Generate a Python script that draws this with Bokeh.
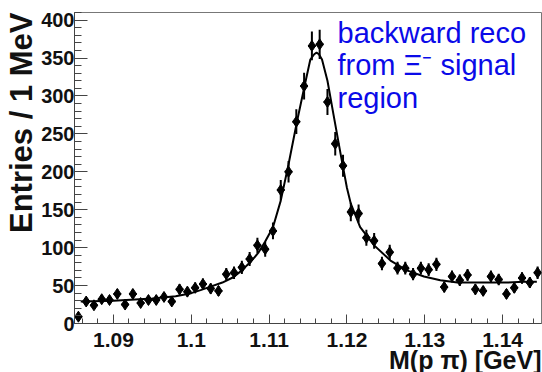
import numpy as np
from bokeh.plotting import figure
from bokeh.models import FixedTicker, CustomJSTickFormatter, Label, Range1d, Title
from bokeh.embed import file_html
from bokeh.resources import INLINE

# bin centres of M(p pi) [GeV], 1 MeV bins from 1.085 to 1.145
mass = [1.0855, 1.0865, 1.0875, 1.0885, 1.0895, 1.0905, 1.0915, 1.0925, 1.0935, 1.0945,
        1.0955, 1.0965, 1.0975, 1.0985, 1.0995, 1.1005, 1.1015, 1.1025, 1.1035, 1.1045,
        1.1055, 1.1065, 1.1075, 1.1085, 1.1095, 1.1105, 1.1115, 1.1125, 1.1135, 1.1145,
        1.1155, 1.1165, 1.1175, 1.1185, 1.1195, 1.1205, 1.1215, 1.1225, 1.1235, 1.1245,
        1.1255, 1.1265, 1.1275, 1.1285, 1.1295, 1.1305, 1.1315, 1.1325, 1.1335, 1.1345,
        1.1355, 1.1365, 1.1375, 1.1385, 1.1395, 1.1405, 1.1415, 1.1425, 1.1435, 1.1445]
counts = [9, 29, 24, 32, 31, 39, 25, 39, 27, 31,
          31, 35, 29, 45, 42, 47, 52, 46, 43, 65,
          67, 74, 85, 103, 98, 122, 176, 200, 266, 313,
          366, 368, 292, 237, 208, 147, 145, 113, 109, 79,
          94, 73, 73, 65, 73, 71, 78, 48, 62, 57,
          64, 45, 43, 62, 58, 39, 47, 60, 54, 67]
errors = [3.0, 5.4, 4.9, 5.7, 5.6, 6.2, 5.0, 6.2, 5.2, 5.6,
          5.6, 5.9, 5.4, 6.7, 6.5, 6.9, 7.2, 6.8, 6.6, 8.1,
          8.2, 8.6, 9.2, 10.1, 9.9, 11.0, 13.3, 14.1, 16.3, 17.7,
          19.1, 19.2, 17.1, 15.4, 14.4, 12.1, 12.0, 10.6, 10.4, 8.9,
          9.7, 8.5, 8.5, 8.1, 8.5, 8.4, 8.8, 6.9, 7.9, 7.5,
          8.0, 6.7, 6.6, 7.9, 7.6, 6.2, 6.9, 7.7, 7.3, 8.2]
half_bin = 0.0005

# fitted curve
fit_x = [1.0858, 1.0900, 1.0950, 1.0980, 1.1000, 1.1012, 1.1023, 1.1040, 1.1054, 1.1065,
         1.1076, 1.1086, 1.1095, 1.1105, 1.1115, 1.1125, 1.1136, 1.1146, 1.1153, 1.1158,
         1.1161, 1.1164, 1.1168, 1.1175, 1.1183, 1.1192, 1.1200, 1.1205, 1.1217, 1.1235,
         1.1256, 1.1277, 1.1299, 1.1320, 1.1342, 1.1363, 1.1385, 1.1406, 1.1427, 1.1444]
fit_y = [29, 30, 33, 36, 40, 44, 48, 54, 61, 70,
         81, 93, 108, 127, 162, 210, 267, 315, 348, 355,
         357, 355, 348, 320, 274, 223, 179, 158, 127, 103,
         83, 70, 62, 57, 54, 54, 54, 54, 55, 55]

x_ticks = [1.09, 1.10, 1.11, 1.12, 1.13, 1.14]
x_minor = [round(1.086 + 0.002 * i, 3) for i in range(30)]
y_ticks = [0, 50, 100, 150, 200, 250, 300, 350, 400]
y_minor = list(range(0, 411, 10))

legend_lines = ["backward reco", "from \u039e\u207b signal", "region"]
x_title = "M(p \u03c0) [GeV]"
y_title = "Entries / 1 MeV"

FONT = "Liberation Sans"

p = figure(width=542, height=372, x_range=Range1d(1.085, 1.145), y_range=Range1d(0, 410),
           output_backend="svg", toolbar_location=None,
           min_border_left=74, min_border_right=1, min_border_top=12, min_border_bottom=49)
p.background_fill_color = "white"
p.border_fill_color = "white"
p.grid.visible = False
p.outline_line_color = "#777777"
p.outline_line_width = 1

xa = p.xaxis[0]
ya = p.yaxis[0]
xa.ticker = FixedTicker(ticks=x_ticks, minor_ticks=x_minor)
xa.formatter = CustomJSTickFormatter(code="return String(Math.round(tick*1000)/1000);")
ya.ticker = FixedTicker(ticks=y_ticks, minor_ticks=y_minor)
for ax in (xa, ya):
    ax.major_tick_out = 0
    ax.minor_tick_out = 0
    ax.axis_line_color = "#444444"
    ax.major_tick_line_color = "#444444"
    ax.minor_tick_line_color = "#444444"
    ax.major_label_text_font = FONT
    ax.major_label_text_font_style = "bold"
    ax.major_label_text_color = "#111111"
xa.major_tick_in = 9
xa.minor_tick_in = 5
ya.major_tick_in = 13
ya.minor_tick_in = 7
xa.major_label_text_font_size = "21px"
ya.major_label_text_font_size = "20px"
xa.major_label_standoff = 9
ya.major_label_standoff = 0

p.add_layout(Title(text=x_title, align="right", text_font=FONT, text_font_style="bold",
                   text_font_size="25px", text_color="#111111", standoff=-12), "below")
p.add_layout(Title(text=y_title, align="right", vertical_align="top", text_font=FONT,
                   text_font_style="bold", text_font_size="31px", text_color="#111111",
                   standoff=-4), "left")

m = np.array(mass)
c = np.array(counts)
e = np.array(errors)
p.segment(x0=m, y0=c - e, x1=m, y1=c + e, line_color="black", line_width=2)
p.segment(x0=m - half_bin, y0=c, x1=m + half_bin, y1=c, line_color="black", line_width=2)
p.scatter(m, c, marker="diamond", size=11, color="black")
p.line(fit_x, fit_y, line_color="black", line_width=2)

for i, line in enumerate(legend_lines):
    p.add_layout(Label(x=263, y=291 - 32.5 * i, x_units="screen", y_units="screen",
                       text=line, text_align="left", text_baseline="alphabetic",
                       text_font=FONT, text_font_size="29px", text_color="#0a0ae8"))

open("out.html", "w").write(file_html(p, INLINE))
